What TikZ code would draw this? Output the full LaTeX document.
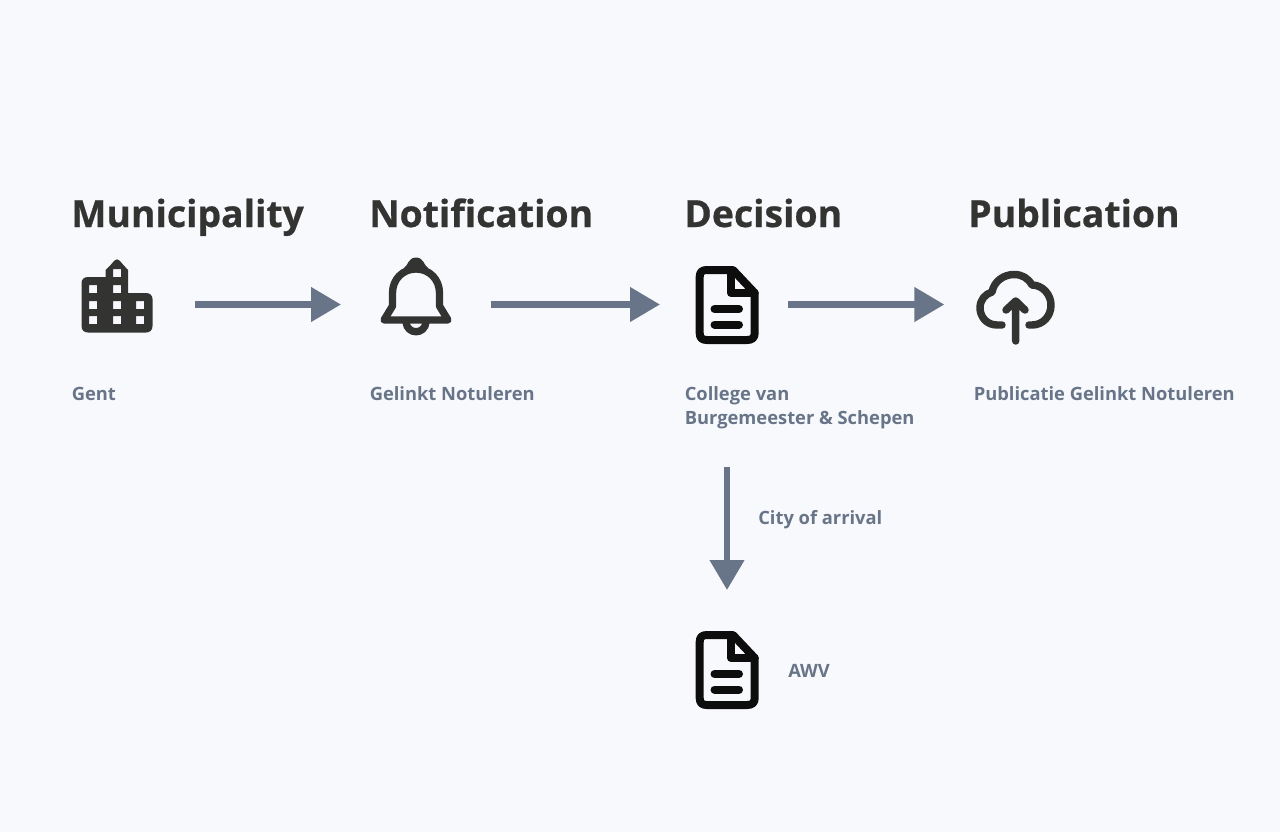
\documentclass[tikz,border=0pt]{standalone}
\usepackage{fontspec}
\setmainfont{Open Sans}[BoldFont={Open Sans Bold}]
\newfontface\headface{Open Sans Bold}[FakeBold=0.6]
\usetikzlibrary{arrows.meta}
\definecolor{bgc}{HTML}{F8F9FD}
\definecolor{ink}{HTML}{333332}
\definecolor{doc}{HTML}{0D0D0D}
\definecolor{slate}{HTML}{687588}
\tikzset{
  heading/.style={anchor=base west,inner sep=0pt,text=ink,font=\headface\fontsize{28pt}{33pt}\selectfont},
  caption/.style={anchor=base west,inner sep=0pt,text=slate,align=left,font=\bfseries\fontsize{13.75pt}{18pt}\selectfont},
  iconbox/.style={inner sep=0pt,outer sep=0pt,minimum height=90*0.75pt},
  flow/.style={draw=slate,line width=4.8pt,-{Triangle[length=22.5pt,width=25pt,color=slate]}},
  iconline/.style={line width=5.5pt,line cap=round,line join=round,draw=ink},
  docline/.style={line width=6pt,line cap=round,line join=round,draw=doc},
}
\begin{document}
\begin{tikzpicture}[x=0.75pt,y=-0.75pt]
\useasboundingbox (0,0) rectangle (1280,832);
\fill[bgc] (0,0) rectangle (1280,832);
% headings
\node[heading] (hmuni) at (71,227) {Municipality};
\node[heading] (hnotif) at (369,227) {Notification};
\node[heading] (hdec) at (684,227) {Decision};
\node[heading] (hpub) at (968,227) {Publication};
% captions
\node[caption] (cmuni) at (71.5,400) {Gent};
\node[caption] (cnotif) at (369.5,400) {Gelinkt Notuleren};
\node[caption] (cdec) at (684.5,424) {College van\\Burgemeester \& Schepen};
\node[caption] (cpub) at (973.5,400) {Publicatie Gelinkt Notuleren};
\node[caption] (carr) at (758,524) {City of arrival};
\node[caption] (cawv) at (788,677) {AWV};
% icon anchors
\node[iconbox,minimum width=54pt] (muni) at (117,304.5) {};
\node[iconbox,minimum width=54pt] (notif) at (416,304.5) {};
\node[iconbox,minimum width=48pt] (dec) at (727,304.5) {};
\node[iconbox,minimum width=60pt] (pub) at (1015,304.5) {};
\node[iconbox,minimum width=48pt,minimum height=60pt] (awv) at (727,670) {};
% building
\fill[ink,even odd rule]
  (88,277) -- (105.7,277) -- (105.7,270) -- (111,264.5) -- (114.5,260.5) .. controls (116,259) and (118,259) .. (119.5,260.5)
  -- (123,264.5) -- (128,270) -- (128,293) -- (146,293) .. controls (150,293) and (152.5,295.5) .. (152.5,299)
  -- (152.5,326) .. controls (152.5,330) and (150,332.5) .. (146,332.5) -- (88,332.5)
  .. controls (84,332.5) and (81.5,330) .. (81.5,326) -- (81.5,283) .. controls (81.5,279.5) and (84,277) .. (88,277) -- cycle
  (113,269) rectangle (121,277)
  (89,285) rectangle (97,293) (113,285) rectangle (121,293)
  (89,301) rectangle (97,309) (113,301) rectangle (121,309) (136,301) rectangle (144,309)
  (89,316) rectangle (97,324) (113,316) rectangle (121,324) (136,316) rectangle (144,324);
% bell
\draw[iconline] (384,320) -- (448,320) -- (439.5,306) -- (439.5,293)
  .. controls (439.5,279) and (429,269) .. (416,269)
  .. controls (403,269) and (392.5,279) .. (392.5,293) -- (392.5,306) -- cycle;
\fill[ink] (404,268) .. controls (408,266) and (408,257.5) .. (416,257.5) .. controls (424,257.5) and (424,266) .. (428,268) -- cycle;
\draw[iconline,line cap=butt] (406,322) .. controls (407,335) and (425,335) .. (426,322);
% document
\foreach \dy in {0,365}{
  \begin{scope}[yshift=-\dy*0.75pt]
  \draw[docline] (731,270) -- (707,270) .. controls (702,270) and (699.7,272) .. (699.7,277)
    -- (699.7,333) .. controls (699.7,338) and (702,340) .. (707,340)
    -- (747,340) .. controls (752,340) and (754.7,338) .. (754.7,333) -- (754.7,293) -- (733,270) -- cycle;
  \draw[docline] (731,270) -- (731,293) -- (754.7,293);
  \draw[docline] (714.5,309) -- (739,309) (714.5,324.5) -- (739,324.5);
  \end{scope}
}
% cloud
\draw[iconline,line width=5.6pt] (1002,325) -- (997,325) .. controls (986,325) and (980,316) .. (980,308)
  .. controls (980,300) and (985,294) .. (992,292)
  .. controls (994,281) and (1004,274.5) .. (1014,274.5)
  .. controls (1022,274.5) and (1028,278) .. (1032,285)
  .. controls (1043,285) and (1051,295) .. (1051,305)
  .. controls (1051,316) and (1043,325) .. (1032,325) -- (1029,325);
\draw[iconline,line width=5.6pt] (1015.7,341) -- (1015.7,301) (1006,310) -- (1015.7,301) -- (1025,310);
% connectors
\draw[flow,shorten <=31.5pt,shorten >=29.25pt] (muni) -- (notif);
\draw[flow,shorten <=29pt,shorten >=26.25pt] (notif) -- (dec);
\draw[flow,shorten <=22pt,shorten >=23pt] (dec) -- (pub);
\draw[flow,shorten <=88pt,shorten >=30pt] (dec) -- (awv);
\end{tikzpicture}
\end{document}
